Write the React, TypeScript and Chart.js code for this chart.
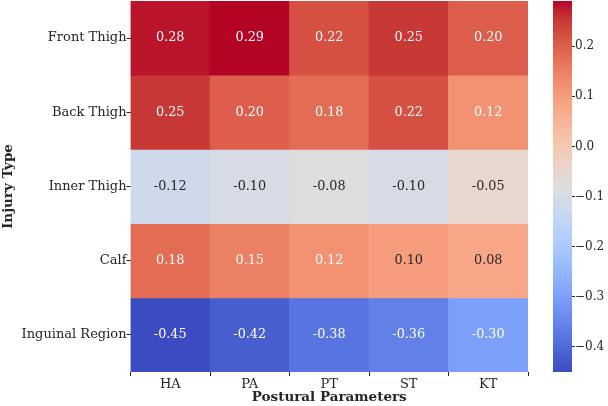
import React, { useEffect, useRef } from "react";
import { Chart, registerables } from "chart.js";

Chart.register(...registerables);

// ---------- data ----------
const injuryTypes = ["Front Thigh", "Back Thigh", "Inner Thigh", "Calf", "Inguinal Region"];
const posturalParams = ["HA", "PA", "PT", "ST", "KT"];
const frontThigh = [0.28, 0.29, 0.22, 0.25, 0.2];
const backThigh = [0.25, 0.2, 0.18, 0.22, 0.12];
const innerThigh = [-0.12, -0.1, -0.08, -0.1, -0.05];
const calf = [0.18, 0.15, 0.12, 0.1, 0.08];
const inguinalRegion = [-0.45, -0.42, -0.38, -0.36, -0.3];
const colorbarTicks = [-0.4, -0.3, -0.2, -0.1, 0.0, 0.1, 0.2];
const vmin = -0.45;
const vmax = 0.29;
const xTitle = "Postural Parameters";
const yTitle = "Injury Type";

const rows = [frontThigh, backThigh, innerThigh, calf, inguinalRegion];

// ---------- coolwarm colormap ----------
const coolwarm: number[][] = [
  [59, 76, 192], [68, 90, 204], [77, 104, 215], [87, 117, 225], [98, 130, 234],
  [108, 142, 241], [119, 154, 247], [130, 165, 251], [141, 176, 254], [152, 185, 255],
  [163, 194, 255], [174, 201, 253], [184, 208, 249], [194, 213, 244], [204, 217, 238],
  [213, 219, 230], [221, 221, 221], [229, 216, 209], [236, 211, 197], [241, 204, 184],
  [245, 196, 172], [247, 187, 160], [247, 177, 148], [247, 166, 135], [244, 154, 123],
  [241, 141, 111], [236, 127, 99], [229, 112, 88], [222, 96, 77], [213, 80, 66],
  [203, 62, 56], [192, 40, 47], [180, 4, 38],
];

function cmapRGB(t: number): number[] {
  const tt = Math.min(1, Math.max(0, t)) * (coolwarm.length - 1);
  const i = Math.min(coolwarm.length - 2, Math.floor(tt));
  const f = tt - i;
  const a = coolwarm[i];
  const b = coolwarm[i + 1];
  return [0, 1, 2].map((k) => Math.round(a[k] + (b[k] - a[k]) * f));
}
function rgbStr(c: number[]) {
  return `rgb(${c[0]},${c[1]},${c[2]})`;
}
function valueColor(v: number) {
  return rgbStr(cmapRGB((v - vmin) / (vmax - vmin)));
}
function textColor(v: number) {
  const c = cmapRGB((v - vmin) / (vmax - vmin)).map((x) => {
    const s = x / 255;
    return s <= 0.03928 ? s / 12.92 : Math.pow((s + 0.055) / 1.055, 2.4);
  });
  const lum = 0.2126 * c[0] + 0.7152 * c[1] + 0.0722 * c[2];
  return lum > 0.408 ? "#262626" : "#ffffff";
}

const FONT = "'DejaVu Serif', serif";
const INK = "#262626";

const annotatePlugin = {
  id: "annotate",
  afterDatasetsDraw(chart: any) {
    const ctx = chart.ctx;
    ctx.save();
    ctx.font = `12.8px ${FONT}`;
    ctx.textAlign = "center";
    ctx.textBaseline = "middle";
    chart.data.datasets.forEach((ds: any, di: number) => {
      const meta = chart.getDatasetMeta(di);
      meta.data.forEach((el: any, i: number) => {
        const v = rows[di][i];
        const p = el.getProps(["x", "y", "base"], true);
        ctx.fillStyle = textColor(v);
        ctx.fillText(v.toFixed(2), p.x, (p.y + p.base) / 2);
      });
    });
    ctx.restore();
  },
};

function noPad(s: any) {
  s.paddingTop = 0;
  s.paddingBottom = 0;
  s.paddingLeft = 0;
  s.paddingRight = 0;
}

export default function App() {
  const mainRef = useRef<HTMLCanvasElement>(null);
  const barRef = useRef<HTMLCanvasElement>(null);

  useEffect(() => {
    const main = new Chart(mainRef.current!, {
      type: "bar",
      data: {
        labels: posturalParams,
        datasets: rows.map((vals, r) => ({
          label: injuryTypes[r],
          data: vals.map(() => [r, r + 1]) as any,
          backgroundColor: vals.map(valueColor),
          borderWidth: 0,
          barPercentage: 1,
          categoryPercentage: 1,
        })),
      },
      options: {
        responsive: false,
        animation: false,
        layout: { padding: { top: 1, right: 2, left: 0, bottom: 0 } },
        plugins: { legend: { display: false }, tooltip: { enabled: false } },
        scales: {
          x: {
            stacked: true,
            grid: { drawOnChartArea: false, tickLength: 4, tickColor: INK, tickWidth: 1 },
            border: { display: false },
            ticks: { color: INK, font: { family: FONT, size: 13 }, padding: 1, maxRotation: 0 },
            title: {
              display: true,
              text: xTitle,
              color: INK,
              font: { family: FONT, size: 13.5, weight: "bold" },
              padding: 0,
            },
            afterFit: (s: any) => {
              s.height = 34;
              noPad(s);
            },
          },
          y: {
            type: "linear",
            stacked: false,
            reverse: true,
            min: 0,
            max: 5,
            grid: { drawOnChartArea: false, tickLength: 4, tickColor: INK, tickWidth: 1 },
            border: { display: false },
            afterBuildTicks: (s: any) => {
              s.ticks = injuryTypes.map((_, i) => ({ value: i + 0.5 }));
            },
            ticks: {
              color: INK,
              font: { family: FONT, size: 13 },
              padding: 0,
              callback: (v: any) => injuryTypes[Math.floor(Number(v))] ?? "",
            },
            title: {
              display: true,
              text: yTitle,
              color: INK,
              font: { family: FONT, size: 13.5, weight: "bold" },
              padding: 0,
            },
            afterFit: (s: any) => {
              s.width = 130.5;
              noPad(s);
            },
          },
        },
      } as any,
      plugins: [annotatePlugin],
    });

    const bar = new Chart(barRef.current!, {
      type: "bar",
      data: {
        labels: [""],
        datasets: [
          {
            data: [[vmin, vmax]] as any,
            borderWidth: 0,
            barPercentage: 1,
            categoryPercentage: 1,
            backgroundColor: (ctx: any) => {
              const area = ctx.chart.chartArea;
              if (!area) return "#ddd";
              const g = ctx.chart.ctx.createLinearGradient(0, area.bottom, 0, area.top);
              coolwarm.forEach((c, i) => g.addColorStop(i / (coolwarm.length - 1), rgbStr(c)));
              return g;
            },
          },
        ],
      },
      options: {
        responsive: false,
        animation: false,
        layout: { padding: { top: 1, left: 13, bottom: 34, right: 0 } },
        plugins: { legend: { display: false }, tooltip: { enabled: false } },
        scales: {
          x: { display: false },
          y: {
            type: "linear",
            position: "right",
            min: vmin,
            max: vmax,
            grid: { drawOnChartArea: false, tickLength: 3, tickColor: INK, tickWidth: 1 },
            border: { display: false },
            afterBuildTicks: (s: any) => {
              s.ticks = colorbarTicks.map((v) => ({ value: v }));
            },
            ticks: {
              color: INK,
              font: { family: FONT, size: 12 },
              padding: 0,
              callback: (v: any) => {
                const n = Number(v);
                const s = Math.abs(n).toFixed(1);
                return n < -1e-9 ? "\u2212" + s : s;
              },
            },
            afterFit: (s: any) => {
              s.width = 36;
              noPad(s);
            },
          },
        },
      } as any,
    });

    return () => {
      main.destroy();
      bar.destroy();
    };
  }, []);

  return (
    <div style={{ position: "fixed", left: 0, top: 0, width: 608, height: 406, background: "#fff" }}>
      <canvas
        ref={mainRef}
        width={530}
        height={406}
        style={{ position: "absolute", left: 0, top: 0, width: 530, height: 406 }}
      />
      <canvas
        ref={barRef}
        width={68}
        height={406}
        style={{ position: "absolute", left: 540, top: 0, width: 68, height: 406 }}
      />
    </div>
  );
}
